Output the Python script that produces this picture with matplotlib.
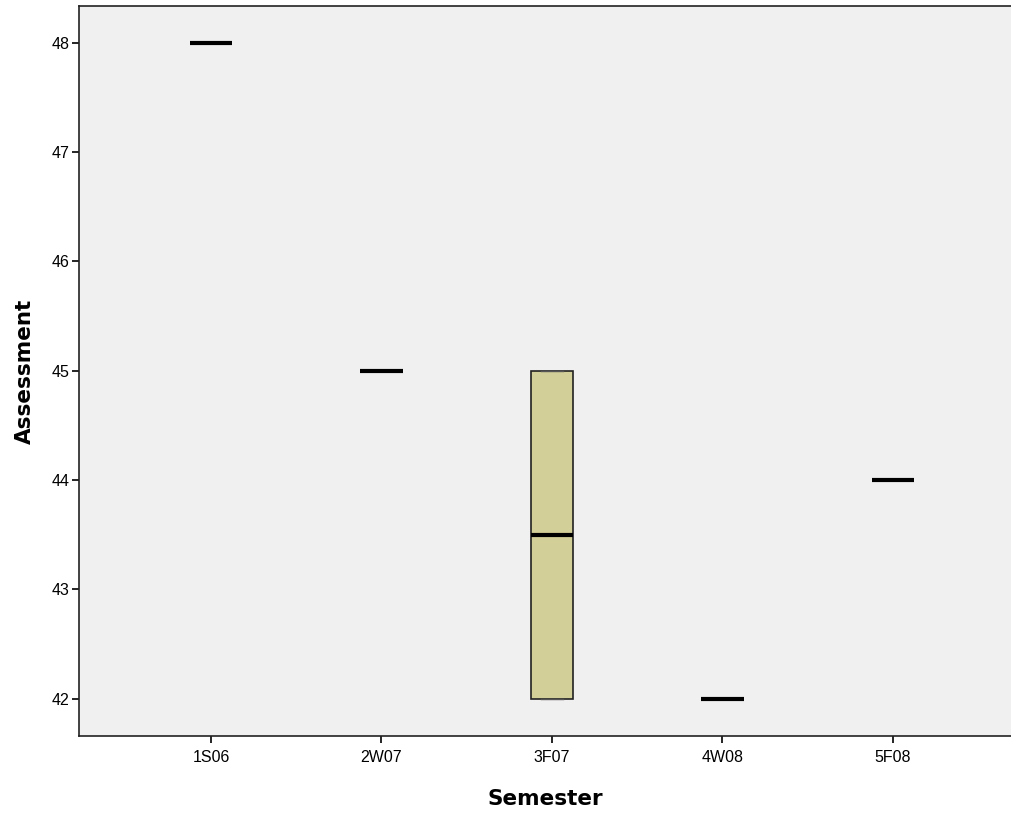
import matplotlib.pyplot as plt

# Assessment by semester (box plot summaries)
semesters = ["1S06", "2W07", "3F07", "4W08", "5F08"]
q1 = [48, 45, 42, 42, 44]
medians = [48, 45, 43.5, 42, 44]
q3 = [48, 45, 45, 42, 44]
whisk_lo = [48, 45, 42, 42, 44]
whisk_hi = [48, 45, 45, 42, 44]

plt.rcParams["font.family"] = ["Liberation Sans", "DejaVu Sans"]

fig = plt.figure(figsize=(10.11, 8.13), dpi=100)
ax = fig.add_axes([0.0781, 0.0947, 0.9219, 0.8979])
ax.set_facecolor("#f0f0f0")

stats = []
for i, name in enumerate(semesters):
    stats.append({"label": name, "q1": q1[i], "med": medians[i], "q3": q3[i],
                  "whislo": whisk_lo[i], "whishi": whisk_hi[i], "fliers": []})

ax.bxp(stats, positions=range(len(semesters)), widths=0.25, patch_artist=True,
       showfliers=False,
       boxprops=dict(facecolor="#d3cf98", edgecolor="#222222", linewidth=1.2),
       medianprops=dict(color="black", linewidth=3.0, solid_capstyle="butt"),
       whiskerprops=dict(color="#222222", linewidth=1),
       capprops=dict(color="#555555", linewidth=1))

ax.set_xlim(-0.774, 4.692)
ax.set_ylim(41.66, 48.336)
ax.set_yticks([42, 43, 44, 45, 46, 47, 48])
ax.set_xticks(range(len(semesters)))
ax.set_xticklabels(semesters)
ax.tick_params(axis="both", direction="out", length=5, width=1.2, labelsize=11.5,
               colors="black")
ax.tick_params(axis="y", pad=2)
ax.tick_params(axis="x", pad=5)

for side in ["left", "bottom", "top"]:
    ax.spines[side].set_linewidth(1.2)
    ax.spines[side].set_color("#222222")
ax.spines["right"].set_visible(False)

ax.set_xlabel("Semester", fontsize=15.5, fontweight="bold", family="DejaVu Sans", labelpad=17)
ax.set_ylabel("Assessment", fontsize=15.5, fontweight="bold", family="DejaVu Sans", labelpad=12)

fig.savefig("out.png", dpi=100)
